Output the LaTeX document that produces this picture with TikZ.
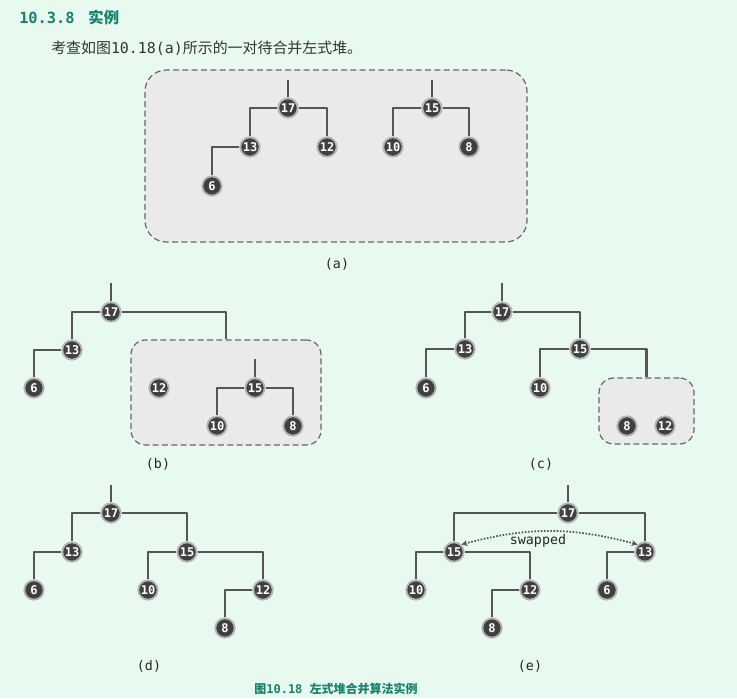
\documentclass[tikz,border=0pt]{standalone}
\usepackage{fontspec}
\setmainfont{DejaVu Sans Mono}
\newfontfamily\cjk{Noto Sans CJK SC}
\usetikzlibrary{fit,arrows.meta}
\definecolor{bgmint}{HTML}{E8FAF0}
\definecolor{headteal}{HTML}{17826A}
\definecolor{keyfill}{HTML}{404040}
\definecolor{keyring}{HTML}{B4B4B4}
\definecolor{linkgray}{HTML}{555555}
\definecolor{boxfill}{HTML}{EAEAEA}
\tikzset{
	key/.style={circle,fill=keyfill,draw=keyring,line width=1.4pt,inner sep=0pt,
		minimum size=14.5pt,text=white,font=\fontsize{9}{9}\selectfont\bfseries},
	link/.style={draw=linkgray,line width=2pt},
	heapbox/.style={draw=black!60,fill=boxfill,dash pattern=on 4.5pt off 2.5pt,
		line width=0.9pt,rounded corners=11pt,inner sep=0pt},
	sublabel/.style={font=\fontsize{10}{10}\selectfont,text=black!85},
	swaplink/.style={draw=linkgray,line width=1.3pt,dash pattern=on 1.2pt off 1.2pt,
		{Stealth[length=4.5pt,width=4.5pt]}-{Stealth[length=4.5pt,width=4.5pt]}}
}
\begin{document}
\begin{tikzpicture}[x=0.75pt,y=-0.75pt,line join=round]
	\fill[bgmint] (0,0) rectangle (737,698);
	\useasboundingbox (0,0) rectangle (737,698);
	\node[anchor=base west,inner sep=0pt,text=headteal,font=\fontsize{11.5}{11.5}\selectfont\bfseries] (title) at (19,24) {10.3.8\hspace{0.9em}{\cjk 实例}};
	\node[anchor=base west,inner sep=0pt,text=black!80,font=\fontsize{11.2}{11.2}\selectfont] (intro) at (51,54) {{\cjk 考查如图}10.18(a){\cjk 所示的一对待合并左式堆。}};
	% (a)
	\node[heapbox,rounded corners=16pt,fit={(145,70) (527,242)}] (abox) {};
	\foreach \n/\x/\y in {17/288/108,13/250/147,12/327/147,6/212/186,15/432/108,10/393/147,8/469/147}
	{\node[key] (a\n) at (\x,\y) {\n};}
	\coordinate (ar17) at (288,80);
	\coordinate (ar15) at (432,80);
	\draw[link] (ar17) -- (a17);
	\draw[link] (ar15) -- (a15);
	\foreach \u/\v in {17/13,17/12,13/6,15/10,15/8}
	{\draw[link] (a\u) -| (a\v);}
	\node[sublabel] (alabel) at (337,264) {(a)};
	% (b)
	\node[heapbox,fit={(131,340) (321,445)}] (bbox) {};
	\foreach \n/\x/\y in {17/111/312,13/72/350,6/34/388,12/159/388,15/255/388,10/217/426,8/293/426}
	{\node[key] (b\n) at (\x,\y) {\n};}
	\coordinate (br17) at (111,283);
	\coordinate (br15) at (255,359);
	\draw[link] (br17) -- (b17);
	\draw[link] (br15) -- (b15);
	\foreach \u/\v in {17/13,13/6,15/10,15/8}
	{\draw[link] (b\u) -| (b\v);}
	\draw[link] (b17) -| (bbox);
	\node[sublabel] (blabel) at (158,464) {(b)};
	% (c)
	\node[heapbox,fit={(599,378) (694,444)}] (cbox) {};
	\foreach \n/\x/\y in {17/502/312,13/465/349,6/426/388,15/580/349,10/540/388,8/627/426,12/665/426}
	{\node[key] (c\n) at (\x,\y) {\n};}
	\coordinate (cr17) at (502,283);
	\draw[link] (cr17) -- (c17);
	\foreach \u/\v in {17/13,13/6,17/15,15/10}
	{\draw[link] (c\u) -| (c\v);}
	\draw[link] (c15) -| (cbox);
	\node[sublabel] (clabel) at (541,464) {(c)};
	% (d)
	\foreach \n/\x/\y in {17/111/513,13/72/552,6/34/590,15/187/552,10/148/590,12/263/590,8/225/628}
	{\node[key] (d\n) at (\x,\y) {\n};}
	\coordinate (dr17) at (111,485);
	\draw[link] (dr17) -- (d17);
	\foreach \u/\v in {17/13,13/6,17/15,15/10,15/12,12/8}
	{\draw[link] (d\u) -| (d\v);}
	\node[sublabel] (dlabel) at (149,666) {(d)};
	% (e)
	\foreach \n/\x/\y in {17/568/513,15/454/552,13/645/552,10/416/590,12/530/590,8/492/628,6/607/590}
	{\node[key] (e\n) at (\x,\y) {\n};}
	\coordinate (er17) at (568,485);
	\draw[link] (er17) -- (e17);
	\foreach \u/\v in {17/15,17/13,15/10,15/12,12/8,13/6}
	{\draw[link] (e\u) -| (e\v);}
	\draw[swaplink] (e15.north east) to[bend left=15] (e13.north west);
	\node[font=\fontsize{10}{10}\selectfont,text=black!85] (swapped) at (538,541) {swapped};
	\node[sublabel] (elabel) at (530,666) {(e)};
	\node[anchor=base,inner sep=0pt,text=headteal,font=\fontsize{9}{9}\selectfont\bfseries] (caption) at (336,693) {{\cjk 图}10.18 {\cjk 左式堆合并算法实例}};
\end{tikzpicture}
\end{document}
